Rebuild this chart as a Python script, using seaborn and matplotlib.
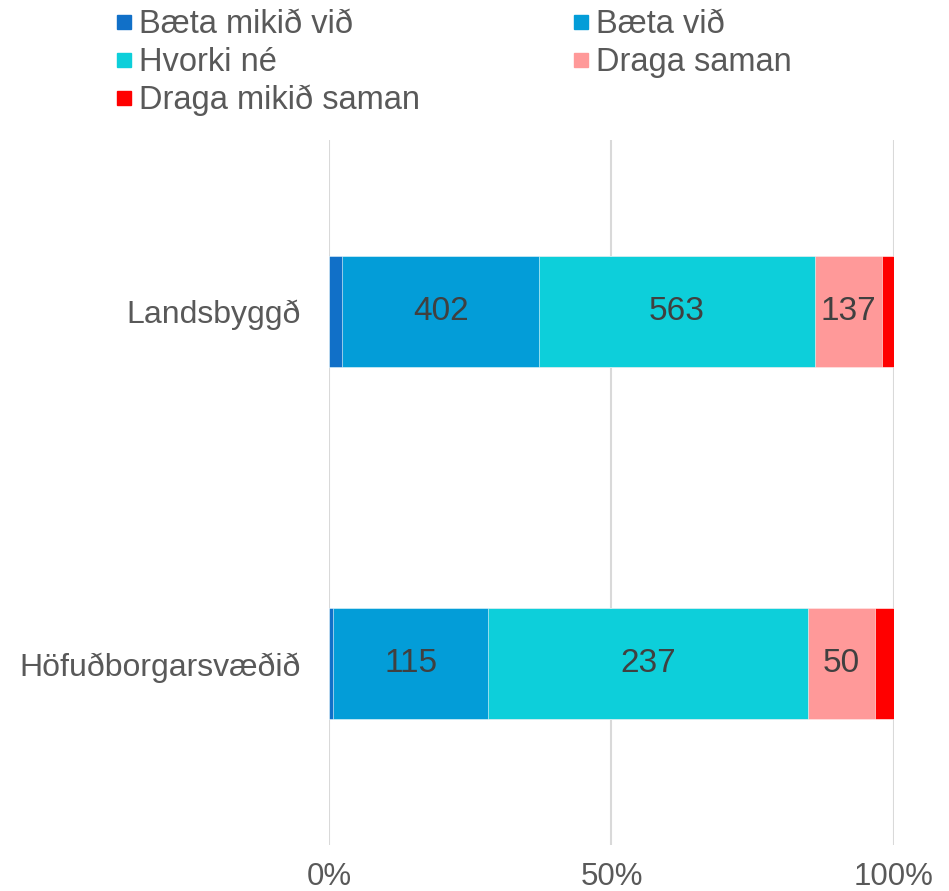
import numpy as np
import pandas as pd
import matplotlib.pyplot as plt
import seaborn as sns
from matplotlib.lines import Line2D

sns.set_theme(style='white')
plt.rcParams['font.family'] = ['Liberation Sans', 'DejaVu Sans']

regions = ['Landsbyggð', 'Höfuðborgarsvæðið']
answers = ['Bæta mikið við', 'Bæta við', 'Hvorki né', 'Draga saman', 'Draga mikið saman']
colors = ['#1170C8', '#039DD8', '#0DCFDA', '#FF9999', '#FF0000']

# counts per answer, order: regions
baeta_mikid = [27, 3]
baeta = [402, 115]
hvorki = [563, 237]
draga = [137, 50]
draga_mikid = [25, 14]

df = pd.DataFrame([baeta_mikid, baeta, hvorki, draga, draga_mikid],
                  index=answers, columns=regions).T
pct = df.div(df.sum(axis=1), axis=0) * 100
cum = pct.cumsum(axis=1)

fig = plt.figure(figsize=(9.49, 8.91), dpi=100)
ax = fig.add_axes([0.3467, 0.0516, 0.5953, 0.7913])

# draw stacked bars back to front
for ans, col in reversed(list(zip(answers, colors))):
    sns.barplot(x=cum[ans].values, y=regions, color=col, orient='h',
                width=0.315, saturation=1, ax=ax, zorder=2,
                edgecolor='white', linewidth=0.4)

# data labels for the larger segments
for i, reg in enumerate(regions):
    for ans in answers:
        if pct.loc[reg, ans] > 5:
            center = cum.loc[reg, ans] - pct.loc[reg, ans] / 2
            ax.text(center, i, str(df.loc[reg, ans]), ha='center', va='center',
                    fontsize=24, color='#404040', zorder=3)

ax.set_xlim(0, 100)
ax.set_ylim(1.514, -0.486)
ax.set_xticks([0, 50, 100])
ax.set_xticklabels(['0%', '50%', '100%'])
ax.xaxis.grid(True, color='#D9D9D9', linewidth=1.5, zorder=0)
ax.set_axisbelow(True)
for s in ax.spines.values():
    s.set_visible(False)
ax.tick_params(axis='x', length=0, pad=12, labelsize=22.5, labelcolor='#595959')
ax.tick_params(axis='y', length=0, pad=20, labelsize=23, labelcolor='#595959')
ax.set_xlabel('')
ax.set_ylabel('')

handles = [Line2D([], [], marker='s', linestyle='', markersize=10,
                  markerfacecolor=c, markeredgecolor=c) for c in colors]
order = [0, 2, 4, 1, 3]
fig.legend([handles[k] for k in order], [answers[k] for k in order],
           ncol=2, loc='upper left', bbox_to_anchor=(0.093, 1.015),
           frameon=False, fontsize=23.5, labelcolor='#595959',
           handletextpad=0.05, handlelength=0.8, columnspacing=4.55,
           labelspacing=0.2, borderpad=0.2)

fig.savefig('out.png', dpi=100)
